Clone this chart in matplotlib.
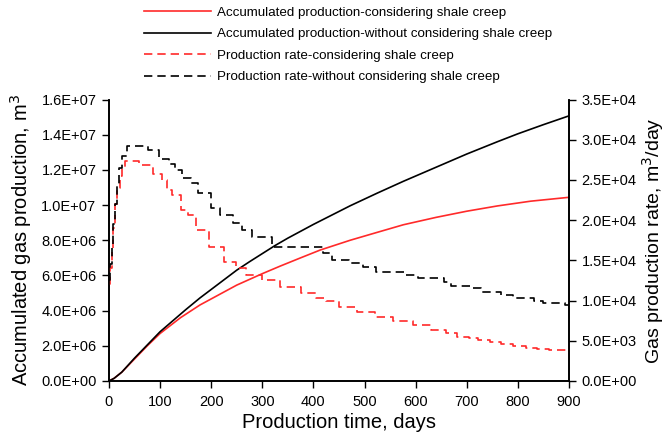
import matplotlib.pyplot as plt
from matplotlib.ticker import FormatStrFormatter

plt.rcParams['font.family'] = ['Liberation Sans', 'DejaVu Sans']

# accumulated production (m3)
cum_days = [0, 10, 25, 50, 75, 100, 150, 178, 250, 275, 325, 350, 400, 472,
            525, 576, 640, 700, 760, 800, 850, 900]
cum_no_creep = [0, 0.15e6, 0.5e6, 1.3e6, 2.05e6, 2.8e6, 4.05e6, 4.72e6, 6.3e6,
                6.78e6, 7.7e6, 8.12e6, 8.9e6, 9.96e6, 10.68e6, 11.35e6, 12.15e6,
                12.9e6, 13.6e6, 14.05e6, 14.57e6, 15.07e6]
cum_red_days = [0, 10, 25, 50, 75, 100, 140, 178, 250, 300, 335, 375, 413, 472,
                525, 576, 640, 700, 760, 825, 900]
cum_creep = [0, 0.15e6, 0.5e6, 1.25e6, 2.0e6, 2.7e6, 3.6e6, 4.32e6, 5.45e6,
             6.1e6, 6.53e6, 7.0e6, 7.44e6, 8.0e6, 8.45e6, 8.88e6, 9.3e6, 9.65e6,
             9.95e6, 10.22e6, 10.44e6]

# production rate (m3/day), step levels with start days
rate_days_no_creep = [0, 2, 5, 8, 12, 16, 20, 25, 35, 76, 98, 118, 130, 142, 160,
                      175, 200, 218, 243, 260, 280, 318, 418, 436, 470, 497, 522,
                      578, 605, 655, 670, 710, 727, 768, 790, 832, 850, 892, 900]
rate_no_creep = [12.5, 14.5, 17.0, 19.5, 22.0, 24.5, 26.5, 28.0, 29.2, 28.7, 27.6,
                 27.0, 26.2, 25.3, 24.6, 23.4, 21.5, 20.6, 19.6, 18.8, 17.9, 16.7,
                 15.9, 15.0, 14.7, 14.2, 13.6, 13.2, 12.8, 12.35, 11.85, 11.6, 11.1,
                 10.7, 10.3, 10.0, 9.7, 9.45, 9.45]
rate_days_creep = [0, 2, 5, 8, 12, 16, 21, 26, 31, 58, 86, 104, 113, 123, 140, 155,
                   170, 195, 226, 248, 268, 300, 335, 375, 405, 425, 450, 485, 520,
                   555, 595, 630, 660, 680, 705, 722, 745, 768, 790, 815, 838, 860,
                   880, 900]
rate_creep = [12.0, 14.0, 16.5, 19.0, 22.0, 24.0, 25.5, 26.5, 27.4, 26.9, 25.7, 25.0,
              23.8, 23.1, 21.3, 20.6, 18.8, 16.6, 14.8, 14.0, 13.2, 12.6, 11.7, 10.9,
              10.3, 9.9, 9.24, 8.6, 8.0, 7.4, 7.0, 6.3, 6.0, 5.5, 5.3, 5.1, 4.9, 4.6,
              4.35, 4.15, 4.0, 3.85, 3.8, 3.8]

fig = plt.figure(figsize=(6.67, 4.47), dpi=100)
ax = fig.add_axes([0.1634, 0.1477, 0.6896, 0.6297])
ax2 = ax.twinx()

red = '#ff2a2a'
l1, = ax.plot(cum_red_days, cum_creep, color=red, lw=1.2)
l2, = ax.plot(cum_days, cum_no_creep, color='black', lw=1.2)
dash = (0, (5, 3))
l3, = ax2.plot(rate_days_creep, [v * 1e3 for v in rate_creep], color=red, lw=1.2,
               ls=dash, drawstyle='steps-post')
l4, = ax2.plot(rate_days_no_creep, [v * 1e3 for v in rate_no_creep], color='black',
               lw=1.2, ls=dash, drawstyle='steps-post')

ax.set_xlim(0, 900)
ax.set_ylim(0, 1.6e7)
ax2.set_ylim(0, 3.5e4)
ax.set_xticks(range(0, 901, 100))
ax.set_yticks([i * 2e6 for i in range(9)])
ax2.set_yticks([i * 5e3 for i in range(8)])
ax.yaxis.set_major_formatter(FormatStrFormatter('%.1E'))
ax2.yaxis.set_major_formatter(FormatStrFormatter('%.1E'))

for a in (ax, ax2):
    a.tick_params(direction='out', length=5, width=1, labelsize=10.5, pad=4)
    for s in a.spines.values():
        s.set_linewidth(1.2)
ax.tick_params(axis='x', labelsize=10.5, pad=5)
ax.spines['top'].set_visible(False)
ax2.spines['top'].set_visible(False)

ax.set_xlabel('Production time, days', fontsize=14.5, labelpad=3)
ax.set_ylabel('Accumulated gas production, m$^3$', fontsize=14.5, labelpad=5)
ax2.set_ylabel('Gas production rate, m$^3$/day', fontsize=14, labelpad=2)

fig.legend([l1, l2, l3, l4],
           ['Accumulated production-considering shale creep',
            'Accumulated production-without considering shale creep',
            'Production rate-considering shale creep',
            'Production rate-without considering shale creep'],
           loc='upper left', bbox_to_anchor=(0.198, 1.012), frameon=False,
           fontsize=9.6, handlelength=5, handletextpad=0.5, labelspacing=0.68)

plt.savefig('out.png', dpi=100)
